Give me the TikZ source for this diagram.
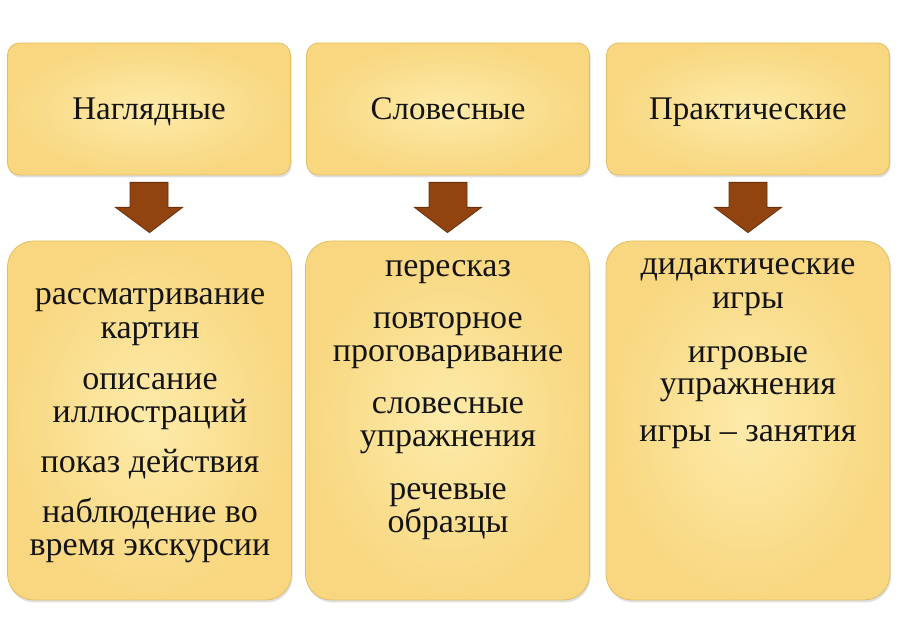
\documentclass[tikz,border=0pt]{standalone}
\usepackage{fontspec}
\setmainfont{Liberation Serif}
\usetikzlibrary{shadows,calc}
\definecolor{boxin}{HTML}{FDEBAA}
\definecolor{boxout}{HTML}{F8D780}
\definecolor{boxline}{HTML}{E2BE62}
\definecolor{arrowfill}{HTML}{924410}
\definecolor{arrowline}{HTML}{6A3008}
\definecolor{txt}{HTML}{141414}
\tikzset{
  basebox/.style={draw=boxline, line width=0.8pt, inner color=boxin, outer color=boxout,
    drop shadow={opacity=0.25, shadow xshift=1pt, shadow yshift=-2.5pt}},
  topbox/.style={basebox, rounded corners=12pt, minimum width=283pt, minimum height=132pt},
  lowbox/.style={basebox, rounded corners=26pt, minimum width=284pt, minimum height=359pt},
  toplabel/.style={font=\fontsize{33}{35}\selectfont, text=txt, anchor=base, inner sep=0pt},
  item/.style={font=\fontsize{34}{35}\selectfont, text=txt, anchor=base, inner sep=0pt},
  blockarrow/.style={fill=arrowfill, draw=arrowline, line width=0.8pt, line join=miter}
}
\begin{document}
\begin{tikzpicture}[x=1pt,y=1pt]
\useasboundingbox (0,0) rectangle (908,621);
% top boxes
\node[topbox] (t1) at (149,512) {};
\node[topbox] (t2) at (448,512) {};
\node[topbox] (t3) at (748,512) {};
% bottom boxes
\node[lowbox] (b1) at (149.5,200.5) {};
\node[lowbox] (b2) at (447.5,200.5) {};
\node[lowbox] (b3) at (748,200.5) {};
% titles
\node[toplabel] (h1) at (149,501) {Наглядные};
\node[toplabel] (h2) at (448,501) {Словесные};
\node[toplabel] (h3) at (748,501) {Практические};
% arrows
\foreach \i in {1,2,3}{
  \draw[blockarrow] ($(t\i.south)+(-19,-7)$) -- ($(t\i.south)+(19,-7)$)
    -- ($(t\i.south)+(19,-32)$) -- ($(t\i.south)+(33.5,-32)$)
    -- ($(b\i.north)+(0,8)$) -- ($(t\i.south)+(-33.5,-32)$)
    -- ($(t\i.south)+(-19,-32)$) -- cycle;
}
% column 1
\node[item] (a1) at (150,316) {рассматривание};
\node[item] (a2) at (150,282) {картин};
\node[item] (a3) at (150,231) {описание};
\node[item] (a4) at (150,198) {иллюстраций};
\node[item] (a5) at (150,148) {показ действия};
\node[item] (a6) at (150,98) {наблюдение во};
\node[item] (a7) at (150,65) {время экскурсии};
% column 2
\node[item] (s1) at (448,344) {пересказ};
\node[item] (s2) at (448,292) {повторное};
\node[item] (s3) at (448,259) {проговаривание};
\node[item] (s4) at (448,207) {словесные};
\node[item] (s5) at (448,174) {упражнения};
\node[item] (s6) at (448,121) {речевые};
\node[item] (s7) at (448,88) {образцы};
% column 3
\node[item] (p1) at (748,346) {дидактические};
\node[item] (p2) at (748,312) {игры};
\node[item] (p3) at (748,258) {игровые};
\node[item] (p4) at (748,226) {упражнения};
\node[item] (p5) at (748,179) {игры – занятия};
\end{tikzpicture}
\end{document}
